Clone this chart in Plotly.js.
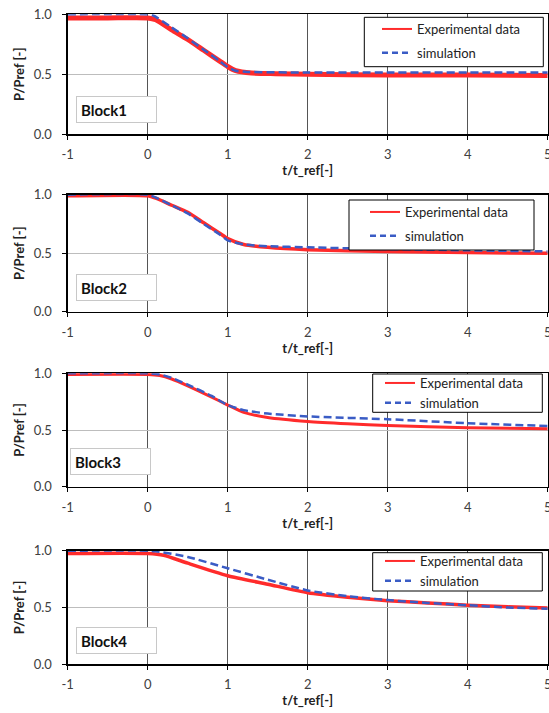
<!DOCTYPE html>
<html><head><meta charset="utf-8">
<script src="https://cdn.plot.ly/plotly-3.0.1.min.js"></script>
<style>html,body{margin:0;padding:0;background:#fff;}#chart{width:549px;height:713px;}</style>
</head><body><div id="chart"></div>
<script>
// ---- data ----
const blockNames = ["Block1", "Block2", "Block3", "Block4"];
const seriesNames = ["Experimental data", "simulation"];
const xTickVals = [-1, 0, 1, 2, 3, 4, 5];
const yTickVals = [0.0, 0.5, 1.0];

const t1Exp = [-1, -0.5, 0, 0.1, 0.3, 0.5, 0.7, 0.9, 1.0, 1.1, 1.3, 1.6, 2, 3, 4, 5];
const p1Exp = [0.97, 0.97, 0.97, 0.955, 0.87, 0.79, 0.70, 0.61, 0.565, 0.53, 0.51, 0.505, 0.50, 0.495, 0.495, 0.49];
const t1Sim = [-1, 0, 0.07, 0.3, 0.5, 0.7, 0.9, 1.0, 1.1, 1.25, 2, 3, 4, 5];
const p1Sim = [1.0, 1.0, 0.99, 0.89, 0.80, 0.705, 0.61, 0.56, 0.53, 0.52, 0.515, 0.515, 0.515, 0.515];

const t2Exp = [-1, 0, 0.1, 0.3, 0.5, 0.7, 0.9, 1.0, 1.2, 1.5, 2, 3, 4, 5];
const p2Exp = [0.99, 0.99, 0.97, 0.91, 0.85, 0.76, 0.67, 0.625, 0.575, 0.55, 0.53, 0.515, 0.505, 0.50];
const t2Sim = [-1, 0, 0.1, 0.3, 0.5, 0.7, 0.9, 1.0, 1.2, 1.5, 2, 3, 4, 5];
const p2Sim = [1.0, 1.0, 0.975, 0.91, 0.84, 0.75, 0.66, 0.61, 0.575, 0.56, 0.55, 0.535, 0.525, 0.515];

const t3Exp = [-1, 0, 0.15, 0.3, 0.5, 0.8, 1.0, 1.2, 1.5, 2, 2.5, 3, 4, 5];
const p3Exp = [0.99, 0.99, 0.98, 0.95, 0.89, 0.79, 0.72, 0.655, 0.61, 0.575, 0.555, 0.54, 0.52, 0.51];
const t3Sim = [-1, 0, 0.15, 0.3, 0.5, 0.8, 1.0, 1.2, 1.5, 2, 3, 4, 5];
const p3Sim = [1.0, 1.0, 0.99, 0.96, 0.90, 0.80, 0.72, 0.675, 0.645, 0.62, 0.595, 0.56, 0.535];

const t4Exp = [-1, 0, 0.2, 0.5, 1.0, 1.5, 2, 2.5, 3, 3.5, 4, 4.5, 5];
const p4Exp = [0.975, 0.975, 0.96, 0.89, 0.78, 0.705, 0.63, 0.59, 0.56, 0.54, 0.52, 0.506, 0.495];
const t4Sim = [-1, 0, 0.1, 0.5, 1.0, 1.5, 2, 2.5, 3, 3.5, 4, 4.5, 5];
const p4Sim = [1.0, 1.0, 0.995, 0.945, 0.845, 0.745, 0.65, 0.60, 0.565, 0.54, 0.52, 0.50, 0.49];

const expT = [t1Exp, t2Exp, t3Exp, t4Exp];
const expP = [p1Exp, p2Exp, p3Exp, p4Exp];
const simT = [t1Sim, t2Sim, t3Sim, t4Sim];
const simP = [p1Sim, p2Sim, p3Sim, p4Sim];

// ---- layout geometry (px) ----
const W = 549, H = 713;
const plotLeft = 67.7, plotRight = 547.7;
const panelTop = [14.3, 194.7, 373.3, 550.7];
const panelBottom = [134.3, 311.7, 486.7, 664.3];
const expWidth = [5, 3.5, 3, 3.5];
const legendFrame = [ [364.3, 17.3, 543.3, 66.7], [349, 200, 534, 250], [372.7, 374, 542.3, 412.3], [372.7, 552.7, 542.3, 591] ];
const legendPos = [ {x:377, y:14, gap:4}, {x:365, y:197, gap:4}, {x:380, y:368, gap:0}, {x:380, y:546, gap:0} ];
const blockBox = [ {x:76, y:96}, {x:76, y:274}, {x:70, y:448}, {x:76, y:627} ];

const RED = "#ff2b2b", BLUE = "#3a5cc5";
const DASH = "8px,4px";
const FONT = "Lato, 'Open Sans', sans-serif";

const data = [];
const layout = {
  width: W, height: H,
  margin: {l:0, r:0, t:0, b:0},
  paper_bgcolor: "#fff", plot_bgcolor: "#fff",
  font: {family: FONT, color: "#222"},
  annotations: [], shapes: [],
  showlegend: true
};

for (let i = 0; i < 4; i++) {
  const s = i === 0 ? "" : String(i + 1);
  const lg = i === 0 ? "legend" : "legend" + (i + 1);
  data.push({ x: expT[i], y: expP[i], type: "scatter", mode: "lines", name: seriesNames[0], showlegend: false,
    xaxis: "x" + s, yaxis: "y" + s, line: {color: RED, width: expWidth[i], shape: "spline", smoothing: 0.6} });
  data.push({ x: simT[i], y: simP[i], type: "scatter", mode: "lines", name: seriesNames[1], showlegend: false,
    xaxis: "x" + s, yaxis: "y" + s, line: {color: BLUE, width: 2.5, dash: DASH, shape: "spline", smoothing: 0.6} });
  // legend entries (thin legend samples like the original)
  data.push({ x: [null], y: [null], type: "scatter", mode: "lines", name: seriesNames[0], legend: lg, legendgroup: "e" + i,
    xaxis: "x" + s, yaxis: "y" + s, hoverinfo: "skip", line: {color: RED, width: 2} });
  data.push({ x: [null], y: [null], type: "scatter", mode: "lines", name: seriesNames[1], legend: lg, legendgroup: "s" + i,
    xaxis: "x" + s, yaxis: "y" + s, hoverinfo: "skip", line: {color: BLUE, width: 2.5, dash: "6px,4px"} });
  layout["xaxis" + s] = {
    domain: [plotLeft / W, plotRight / W], anchor: "y" + s,
    range: [-1, 5], tickvals: xTickVals, ticktext: xTickVals.map(String),
    showgrid: true, gridcolor: "#555", gridwidth: 1, zeroline: false,
    showline: true, linecolor: "#000", linewidth: 1.3, mirror: true,
    ticks: "outside", ticklen: 4, tickcolor: "#000",
    ticklabelstandoff: 4, ticklabeloverflow: "allow",
    tickfont: {family: FONT, size: 13, color: "#404040"},
    title: {text: "<b>t/t_ref[-]</b>", font: {family: FONT, size: 13, color: "#222"}, standoff: 4}
  };
  layout["yaxis" + s] = {
    domain: [1 - panelBottom[i] / H, 1 - panelTop[i] / H], anchor: "x" + s,
    range: [0, 1], tickvals: yTickVals, tickformat: ".1f",
    showgrid: true, gridcolor: "#bdbdbd", gridwidth: 1, zeroline: false,
    showline: true, linecolor: "#000", linewidth: 1.3, mirror: true,
    ticks: "outside", ticklen: 4, tickcolor: "#000",
    ticklabelstandoff: 8, ticklabeloverflow: "allow",
    tickfont: {family: FONT, size: 13, color: "#404040"},
    title: {text: "<b>P/Pref [-]</b>", font: {family: FONT, size: 13, color: "#222"}, standoff: 6}
  };
  const f = legendFrame[i];
  layout.shapes.push({ type: "rect", xref: "paper", yref: "paper", layer: "above",
    x0: f[0] / W, x1: f[2] / W, y0: 1 - f[1] / H, y1: 1 - f[3] / H,
    line: {color: "#000", width: 1}, fillcolor: "#fff" });
  layout[lg] = {
    x: legendPos[i].x / W, y: 1 - legendPos[i].y / H, xanchor: "left", yanchor: "top",
    xref: "paper", yref: "paper", bgcolor: "rgba(0,0,0,0)", borderwidth: 0,
    font: {family: FONT, size: 13, color: "#222"},
    traceorder: "grouped", tracegroupgap: legendPos[i].gap
  };
  layout.annotations.push({ xref: "paper", yref: "paper",
    x: blockBox[i].x / W, y: 1 - blockBox[i].y / H, xanchor: "left", yanchor: "top",
    text: "<b>" + blockNames[i] + "</b>", showarrow: false, align: "left",
    width: 71, height: 17, borderpad: 4, bordercolor: "#c8c8c8", borderwidth: 1, bgcolor: "#fff",
    font: {family: FONT, size: 15, color: "#111"} });
}

Plotly.newPlot("chart", data, layout, {displayModeBar: false, staticPlot: true});
</script>
</body></html>
